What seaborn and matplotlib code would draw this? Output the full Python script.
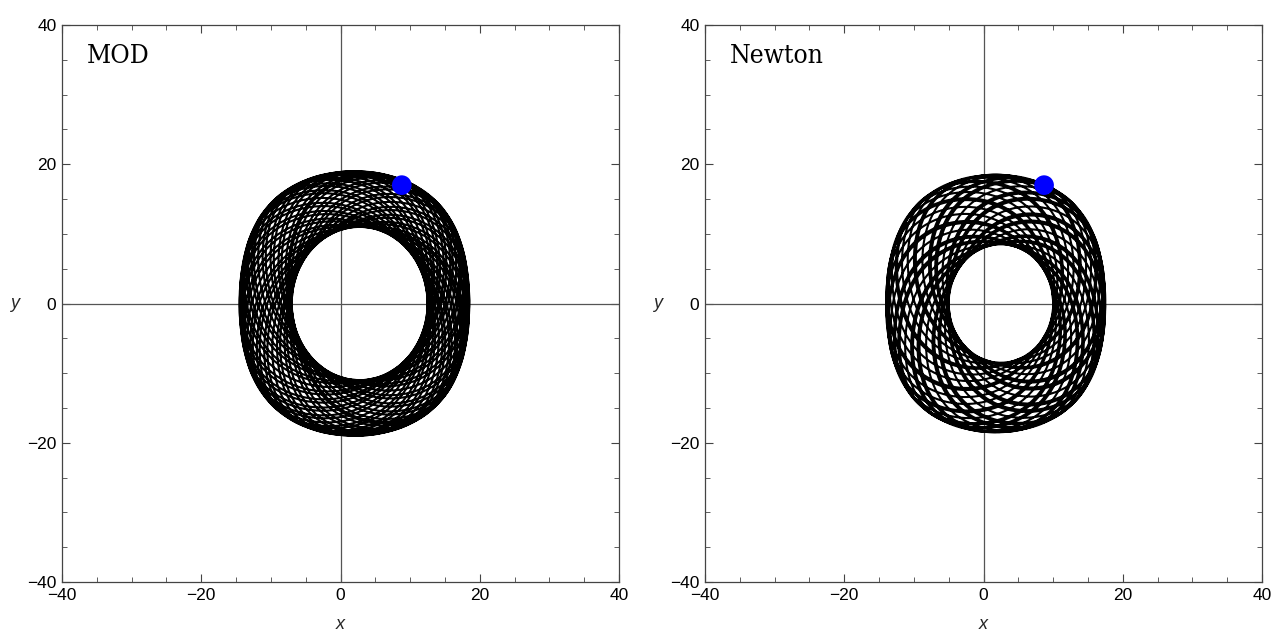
import numpy as np
import pandas as pd
import matplotlib.pyplot as plt
import seaborn as sns

# Panel titles and the star's current position (blue dot)
panels = ["MOD", "Newton"]
dot_x = [8.8, 8.7]
dot_y = [17.0, 17.0]

# Orbit envelope (outer / inner edges of the ring)
outer_x = [(-14.5, 18.5), (-14.0, 17.5)]
inner_x = [(-7.0, 12.5), (-5.0, 10.0)]
outer_y = [19.0, 18.5]
inner_y = [11.0, 8.5]
# radial / azimuthal frequency ratio, number of revolutions, side flatness
kappa = [1.41, 1.115]
turns = [40, 40]
flat_sides = [0.2, 0.2]

ticks_major = [-40, -20, 0, 20, 40]
ticks_minor = list(range(-40, 41, 5))

sns.set_style("ticks")
plt.rcParams["font.family"] = ["Liberation Sans", "DejaVu Sans"]
plt.rcParams["text.color"] = "black"
plt.rcParams["xtick.labelcolor"] = "black"
plt.rcParams["ytick.labelcolor"] = "black"

fig = plt.figure(figsize=(12.87, 6.35), dpi=100)
axes = [fig.add_axes([62 / 1287, 53 / 635, 557 / 1287, 557 / 635]),
        fig.add_axes([705 / 1287, 53 / 635, 557 / 1287, 557 / 635])]


def orbit(i):
    t = np.linspace(0, 2 * np.pi * turns[i], 400 * turns[i])
    s = 0.5 * (1 + np.cos(kappa[i] * t))
    xc_o, hx_o = np.mean(outer_x[i]), np.diff(outer_x[i])[0] / 2
    xc_i, hx_i = np.mean(inner_x[i]), np.diff(inner_x[i])[0] / 2
    a = t + np.arctan2(dot_y[i], dot_x[i])
    c = np.cos(a)
    # outer loops get flatter left/right sides, inner ones stay round
    ca = c + flat_sides[i] * s ** 2 * c * (1 - c ** 2)
    x = xc_i + s * (xc_o - xc_i) + (hx_i + s * (hx_o - hx_i)) * ca
    y = (inner_y[i] + s * (outer_y[i] - inner_y[i])) * np.sin(a)
    return pd.DataFrame({"x": x, "y": y})


for i, ax in enumerate(axes):
    df = orbit(i)
    ax.axhline(0, color="#555555", lw=0.9, zorder=1)
    ax.axvline(0, color="#555555", lw=0.9, zorder=1)
    sns.lineplot(data=df, x="x", y="y", sort=False, estimator=None,
                 color="black", lw=1.5, ax=ax, zorder=2)
    sns.scatterplot(x=[dot_x[i]], y=[dot_y[i]], color="#0000ff", s=200,
                    edgecolor="none", ax=ax, zorder=3)
    ax.set_xlim(-40, 40)
    ax.set_ylim(-40, 40)
    ax.set_xticks(ticks_major)
    ax.set_yticks(ticks_major)
    ax.set_xticks(ticks_minor, minor=True)
    ax.set_yticks(ticks_minor, minor=True)
    ax.tick_params(which="both", direction="in", top=True, right=True,
                   color="#444444", labelsize=12.5, pad=4)
    ax.tick_params(which="major", length=6, width=0.8)
    ax.tick_params(which="minor", length=3.5, width=0.6)
    for sp in ax.spines.values():
        sp.set_color("#444444")
        sp.set_linewidth(0.9)
    ax.set_xlabel("x", fontstyle="italic", fontsize=13, labelpad=10)
    ax.set_ylabel("y", fontstyle="italic", fontsize=13, rotation=0,
                  va="center", ha="center")
    ax.yaxis.set_label_coords(-0.085, 0.5)
    ax.text(0.045, 0.946, panels[i], transform=ax.transAxes,
            family=["DejaVu Serif"], fontstretch="condensed",
            fontsize=19, va="center", ha="left")

fig.savefig("out.png", dpi=100)
